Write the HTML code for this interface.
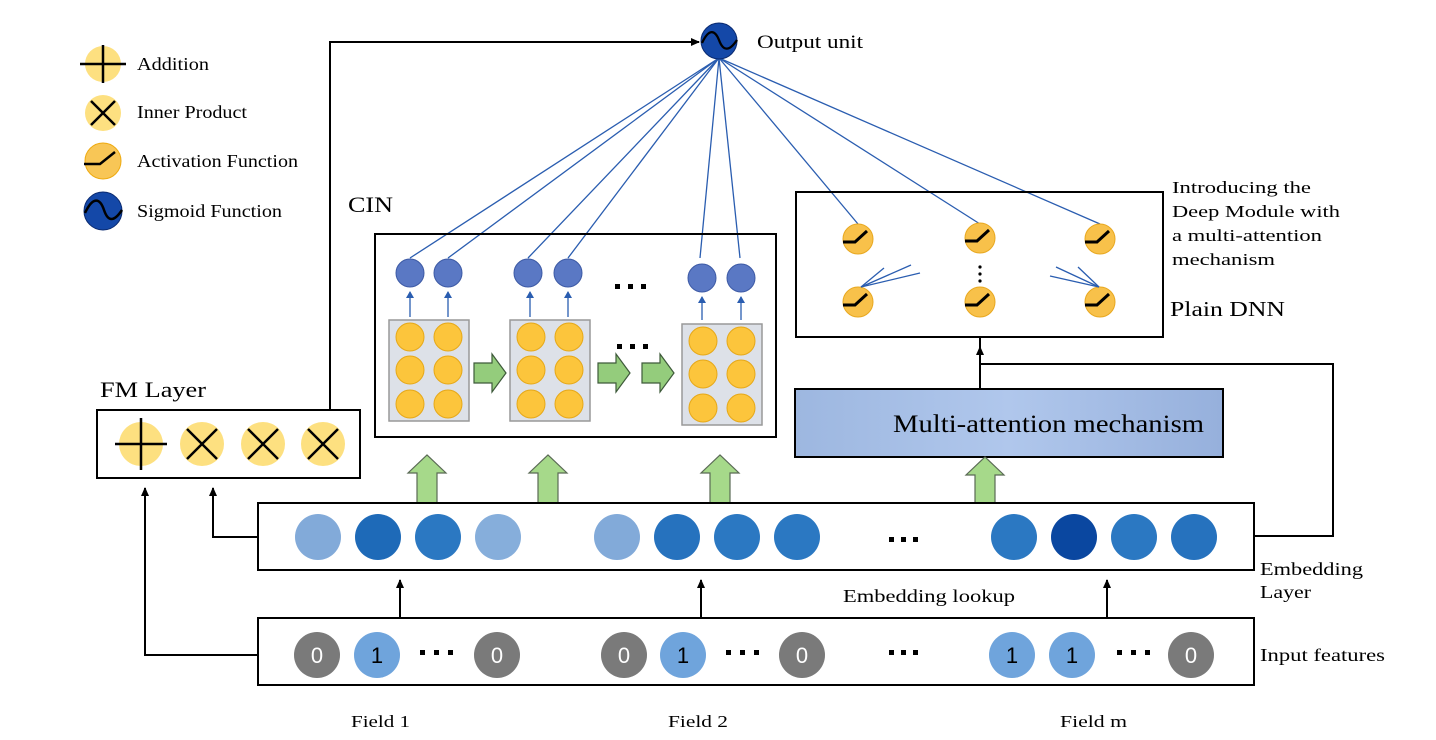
<!DOCTYPE html>
<html><head><meta charset="utf-8"><style>
html,body{margin:0;padding:0;background:#fff;}
svg{display:block;}
text{font-family:"Liberation Serif",serif;fill:#000;}
</style></head><body>
<svg width="1436" height="740" viewBox="0 0 1436 740" xmlns="http://www.w3.org/2000/svg">
<defs>
<marker id="ah" markerWidth="10" markerHeight="10" refX="8" refY="5" orient="auto" markerUnits="userSpaceOnUse"><path d="M0,1 L9,5 L0,9 Z" fill="#000"/></marker>
<marker id="bh" markerWidth="8" markerHeight="8" refX="6" refY="4" orient="auto" markerUnits="userSpaceOnUse"><path d="M0,0 L7,4 L0,8 Z" fill="#2a5db0"/></marker>
<linearGradient id="ma" x1="0" y1="0" x2="1" y2="0"><stop offset="0" stop-color="#9db7e0"/><stop offset="0.5" stop-color="#b0c7ec"/><stop offset="1" stop-color="#96b0dc"/></linearGradient>
<g id="act"><circle r="15" fill="#f8c14a" stroke="#e8a820" stroke-width="1"/><path d="M-15,3 L-3,3 L9,-8" stroke="#000" stroke-width="3" fill="none"/></g>
<g id="org"><circle r="14" fill="#fcc53c" stroke="#e6a818" stroke-width="1"/></g>
<g id="gbox"><rect x="0" y="0" width="80" height="101" fill="#dde1e8" stroke="#999" stroke-width="1.5"/>
<use href="#org" x="21" y="17"/><use href="#org" x="59" y="17"/><use href="#org" x="21" y="50"/><use href="#org" x="59" y="50"/><use href="#org" x="21" y="84"/><use href="#org" x="59" y="84"/></g>
<g id="garR"><path d="M0,-10 L18,-10 L18,-19 L32,0 L18,19 L18,10 L0,10 Z" fill="#94cc7c" stroke="#3e5a3a" stroke-width="1.2"/></g>
<g id="garU"><path d="M-10,0 L-10,-30 L-19,-30 L0,-48 L19,-30 L10,-30 L10,0 Z" fill="#a6d98a" stroke="#5a6a55" stroke-width="1.2"/></g>
</defs>

<!-- Legend -->
<circle cx="103" cy="64" r="18" fill="#fde080"/><path d="M80,64 H126 M103,45 V83" stroke="#000" stroke-width="2.5"/>
<text x="137" y="70" font-size="18" textLength="72" lengthAdjust="spacingAndGlyphs">Addition</text>
<circle cx="103" cy="113" r="18" fill="#fde080"/><path d="M91,101 L115,125 M115,101 L91,125" stroke="#000" stroke-width="2.5"/>
<text x="137" y="118" font-size="18" textLength="110" lengthAdjust="spacingAndGlyphs">Inner Product</text>
<circle cx="103" cy="161" r="18" fill="#f8c656" stroke="#eeaa10" stroke-width="1"/><path d="M84,164 L100,164 L115,152" stroke="#000" stroke-width="2.5" fill="none"/>
<text x="137" y="167" font-size="18" textLength="161" lengthAdjust="spacingAndGlyphs">Activation Function</text>
<circle cx="103" cy="211" r="19" fill="#1448a8" stroke="#0a2a70" stroke-width="1"/><path d="M85,213 C93,196 100,198 104,210 C108,222 114,222 122,210" stroke="#000" stroke-width="2.5" fill="none"/>
<text x="137" y="217" font-size="18" textLength="145" lengthAdjust="spacingAndGlyphs">Sigmoid Function</text>

<!-- Output unit -->
<path d="M330,410 V42 H699" stroke="#000" stroke-width="2" fill="none" marker-end="url(#ah)"/>
<g stroke="#2a5db0" stroke-width="1.3">
<line x1="719" y1="58" x2="410" y2="258"/><line x1="719" y1="58" x2="448" y2="258"/>
<line x1="719" y1="58" x2="528" y2="258"/><line x1="719" y1="58" x2="568" y2="258"/>
<line x1="719" y1="58" x2="700" y2="258"/><line x1="719" y1="58" x2="740" y2="258"/>
<line x1="719" y1="58" x2="858" y2="224"/><line x1="719" y1="58" x2="980" y2="224"/><line x1="719" y1="58" x2="1100" y2="224"/>
</g>
<circle cx="719" cy="41" r="18" fill="#1448a8" stroke="#0a2a70" stroke-width="1"/>
<path d="M702,43 C709,28 715,30 719,40 C723,51 729,52 737,40" stroke="#000" stroke-width="2.3" fill="none"/>
<text x="757" y="48" font-size="19" textLength="106" lengthAdjust="spacingAndGlyphs">Output unit</text>

<!-- FM layer -->
<text x="100" y="397" font-size="22" textLength="106" lengthAdjust="spacingAndGlyphs">FM Layer</text>
<rect x="97" y="410" width="263" height="68" fill="#fff" stroke="#000" stroke-width="2"/>
<circle cx="141" cy="444" r="22" fill="#fde080"/><path d="M115,444 H167 M141,418 V470" stroke="#000" stroke-width="2.5"/>
<g stroke="#000" stroke-width="2.5">
<circle cx="202" cy="444" r="22" fill="#fde080" stroke="none"/><path d="M187,429 L217,459 M217,429 L187,459"/>
<circle cx="263" cy="444" r="22" fill="#fde080" stroke="none"/><path d="M248,429 L278,459 M278,429 L248,459"/>
<circle cx="323" cy="444" r="22" fill="#fde080" stroke="none"/><path d="M308,429 L338,459 M338,429 L308,459"/>
</g>

<!-- CIN -->
<text x="348" y="212" font-size="22" textLength="45" lengthAdjust="spacingAndGlyphs">CIN</text>
<rect x="375" y="234" width="401" height="203" fill="none" stroke="#000" stroke-width="2"/>
<g fill="#5a78c4" stroke="#3d5aa5" stroke-width="1">
<circle cx="410" cy="273" r="14"/><circle cx="448" cy="273" r="14"/>
<circle cx="528" cy="273" r="14"/><circle cx="568" cy="273" r="14"/>
<circle cx="702" cy="278" r="14"/><circle cx="741" cy="278" r="14"/>
</g>
<g stroke="#2a5db0" stroke-width="1.3">
<line x1="410" y1="317" x2="410" y2="292" marker-end="url(#bh)"/><line x1="448" y1="317" x2="448" y2="292" marker-end="url(#bh)"/>
<line x1="530" y1="317" x2="530" y2="292" marker-end="url(#bh)"/><line x1="568" y1="317" x2="568" y2="292" marker-end="url(#bh)"/>
<line x1="702" y1="320" x2="702" y2="297" marker-end="url(#bh)"/><line x1="741" y1="320" x2="741" y2="297" marker-end="url(#bh)"/>
</g>
<use href="#gbox" x="389" y="320"/><use href="#gbox" x="510" y="320"/><use href="#gbox" x="682" y="324"/>
<use href="#garR" x="474" y="373"/><use href="#garR" x="598" y="373"/><use href="#garR" x="642" y="373"/>
<g fill="#000"><rect x="615" y="284" width="5" height="5"/><rect x="628" y="284" width="5" height="5"/><rect x="641" y="284" width="5" height="5"/>
<rect x="617" y="344" width="5" height="5"/><rect x="630" y="344" width="5" height="5"/><rect x="643" y="344" width="5" height="5"/></g>

<!-- Plain DNN -->
<rect x="796" y="192" width="367" height="145" fill="none" stroke="#000" stroke-width="2"/>
<use href="#act" x="858" y="239"/><use href="#act" x="980" y="238"/><use href="#act" x="1100" y="239"/>
<use href="#act" x="858" y="302"/><use href="#act" x="980" y="302"/><use href="#act" x="1100" y="302"/>
<g stroke="#2a5db0" stroke-width="1.3"><line x1="861" y1="287" x2="884" y2="268"/><line x1="861" y1="287" x2="911" y2="265"/><line x1="861" y1="287" x2="920" y2="273"/>
<line x1="1099" y1="287" x2="1056" y2="267"/><line x1="1099" y1="287" x2="1078" y2="267"/><line x1="1099" y1="287" x2="1050" y2="276"/></g>
<g fill="#000"><circle cx="980" cy="267" r="1.6"/><circle cx="980" cy="274" r="1.6"/><circle cx="980" cy="281" r="1.6"/></g>
<text x="1172" y="193" font-size="17" textLength="139" lengthAdjust="spacingAndGlyphs">Introducing the</text>
<text x="1172" y="217" font-size="17" textLength="168" lengthAdjust="spacingAndGlyphs">Deep Module with</text>
<text x="1172" y="241" font-size="17" textLength="150" lengthAdjust="spacingAndGlyphs">a multi-attention</text>
<text x="1172" y="265" font-size="17" textLength="103" lengthAdjust="spacingAndGlyphs">mechanism</text>
<text x="1170" y="316" font-size="21" textLength="115" lengthAdjust="spacingAndGlyphs">Plain DNN</text>

<!-- Multi-attention -->
<path d="M1254,536 H1333 V364 H980 V337" stroke="#000" stroke-width="2" fill="none"/>
<path d="M980,389 V347" stroke="#000" stroke-width="2" marker-end="url(#ah)"/>
<rect x="795" y="389" width="428" height="68" fill="url(#ma)" stroke="#000" stroke-width="2"/>
<text x="893" y="432" font-size="25" textLength="311" lengthAdjust="spacingAndGlyphs">Multi-attention mechanism</text>

<!-- green up arrows -->
<use href="#garU" x="427" y="503"/><use href="#garU" x="548" y="503"/><use href="#garU" x="720" y="503"/><use href="#garU" x="985" y="505"/>

<!-- Embedding layer -->
<path d="M258,537 H213 V488" stroke="#000" stroke-width="2" fill="none" marker-end="url(#ah)"/>
<path d="M258,655 H145 V488" stroke="#000" stroke-width="2" fill="none" marker-end="url(#ah)"/>
<rect x="258" y="503" width="996" height="67" fill="#fff" stroke="#000" stroke-width="2"/>
<g>
<circle cx="318" cy="537" r="23" fill="#82aad9"/><circle cx="378" cy="537" r="23" fill="#1e6ab8"/><circle cx="438" cy="537" r="23" fill="#2b78c2"/><circle cx="498" cy="537" r="23" fill="#86aedb"/>
<circle cx="617" cy="537" r="23" fill="#82aad9"/><circle cx="677" cy="537" r="23" fill="#2672be"/><circle cx="737" cy="537" r="23" fill="#2b78c2"/><circle cx="797" cy="537" r="23" fill="#2b78c2"/>
<circle cx="1014" cy="537" r="23" fill="#2b78c2"/><circle cx="1074" cy="537" r="23" fill="#0a47a0"/><circle cx="1134" cy="537" r="23" fill="#2b78c2"/><circle cx="1194" cy="537" r="23" fill="#2672be"/>
</g>
<g fill="#000"><rect x="889" y="537" width="5" height="5"/><rect x="901" y="537" width="5" height="5"/><rect x="913" y="537" width="5" height="5"/></g>
<text x="1260" y="575" font-size="18" textLength="103" lengthAdjust="spacingAndGlyphs">Embedding</text>
<text x="1260" y="598" font-size="18" textLength="51" lengthAdjust="spacingAndGlyphs">Layer</text>
<text x="843" y="602" font-size="18" textLength="172" lengthAdjust="spacingAndGlyphs">Embedding lookup</text>

<!-- arrows input->embedding -->
<path d="M400,617 V580" stroke="#000" stroke-width="2" marker-end="url(#ah)"/>
<path d="M701,617 V580" stroke="#000" stroke-width="2" marker-end="url(#ah)"/>
<path d="M1107,617 V580" stroke="#000" stroke-width="2" marker-end="url(#ah)"/>

<!-- Input features -->
<rect x="258" y="618" width="996" height="67" fill="#fff" stroke="#000" stroke-width="2"/>
<g font-size="22" text-anchor="middle">
<circle cx="317" cy="655" r="23" fill="#7a7a7a"/><text x="317" y="663" style="fill:#fff;font-family:'Liberation Sans',sans-serif">0</text>
<circle cx="377" cy="655" r="23" fill="#6fa4dc"/><text x="377" y="663" style="font-family:'Liberation Sans',sans-serif">1</text>
<circle cx="497" cy="655" r="23" fill="#7a7a7a"/><text x="497" y="663" style="fill:#fff;font-family:'Liberation Sans',sans-serif">0</text>
<circle cx="624" cy="655" r="23" fill="#7a7a7a"/><text x="624" y="663" style="fill:#fff;font-family:'Liberation Sans',sans-serif">0</text>
<circle cx="683" cy="655" r="23" fill="#6fa4dc"/><text x="683" y="663" style="font-family:'Liberation Sans',sans-serif">1</text>
<circle cx="802" cy="655" r="23" fill="#7a7a7a"/><text x="802" y="663" style="fill:#fff;font-family:'Liberation Sans',sans-serif">0</text>
<circle cx="1012" cy="655" r="23" fill="#6fa4dc"/><text x="1012" y="663" style="font-family:'Liberation Sans',sans-serif">1</text>
<circle cx="1072" cy="655" r="23" fill="#6fa4dc"/><text x="1072" y="663" style="font-family:'Liberation Sans',sans-serif">1</text>
<circle cx="1191" cy="655" r="23" fill="#7a7a7a"/><text x="1191" y="663" style="fill:#fff;font-family:'Liberation Sans',sans-serif">0</text>
</g>
<g fill="#000">
<rect x="420" y="650" width="5" height="5"/><rect x="434" y="650" width="5" height="5"/><rect x="448" y="650" width="5" height="5"/>
<rect x="726" y="650" width="5" height="5"/><rect x="740" y="650" width="5" height="5"/><rect x="754" y="650" width="5" height="5"/>
<rect x="889" y="650" width="5" height="5"/><rect x="901" y="650" width="5" height="5"/><rect x="913" y="650" width="5" height="5"/>
<rect x="1117" y="650" width="5" height="5"/><rect x="1131" y="650" width="5" height="5"/><rect x="1145" y="650" width="5" height="5"/>
</g>
<text x="1260" y="661" font-size="18" textLength="125" lengthAdjust="spacingAndGlyphs">Input features</text>
<text x="351" y="727" font-size="17" textLength="59" lengthAdjust="spacingAndGlyphs">Field 1</text>
<text x="668" y="727" font-size="17" textLength="60" lengthAdjust="spacingAndGlyphs">Field 2</text>
<text x="1060" y="727" font-size="17" textLength="67" lengthAdjust="spacingAndGlyphs">Field m</text>
</svg>
</body></html>
